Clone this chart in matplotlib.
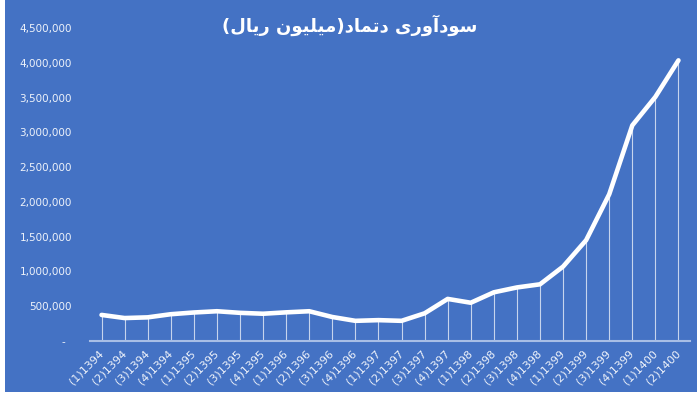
import matplotlib
matplotlib.use("Agg")
import matplotlib.pyplot as plt
from matplotlib.patches import Rectangle
from matplotlib.ticker import FuncFormatter

title = "سودآوری دتماد(میلیون ریال)"
quarters = ["(1)1394", "(2)1394", "(3)1394", "(4)1394",
            "(1)1395", "(2)1395", "(3)1395", "(4)1395",
            "(1)1396", "(2)1396", "(3)1396", "(4)1396",
            "(1)1397", "(2)1397", "(3)1397", "(4)1397",
            "(1)1398", "(2)1398", "(3)1398", "(4)1398",
            "(1)1399", "(2)1399", "(3)1399", "(4)1399",
            "(1)1400", "(2)1400"]
profit = [375000, 330000, 340000, 385000, 410000, 428000, 405000, 392000,
          412000, 428000, 345000, 290000, 300000, 290000, 398000, 605000,
          550000, 700000, 770000, 815000, 1070000, 1450000, 2110000, 3100000,
          3510000, 4035000]
yticks = [0, 500000, 1000000, 1500000, 2000000, 2500000, 3000000, 3500000,
          4000000, 4500000]

bg = "#4472C4"
txt = "#EEF2FA"

# arabic presentation forms: isolated, final, initial, medial
forms = {
    "س": ("\uFEB1", "\uFEB2", "\uFEB3", "\uFEB4"),
    "و": ("\uFEED", "\uFEEE", None, None),
    "د": ("\uFEA9", "\uFEAA", None, None),
    "آ": ("\uFE81", "\uFE82", None, None),
    "ر": ("\uFEAD", "\uFEAE", None, None),
    "ی": ("\uFBFC", "\uFBFD", "\uFBFE", "\uFBFF"),
    "ت": ("\uFE95", "\uFE96", "\uFE97", "\uFE98"),
    "م": ("\uFEE1", "\uFEE2", "\uFEE3", "\uFEE4"),
    "ا": ("\uFE8D", "\uFE8E", None, None),
    "ل": ("\uFEDD", "\uFEDE", "\uFEDF", "\uFEE0"),
    "ن": ("\uFEE5", "\uFEE6", "\uFEE7", "\uFEE8"),
}


def shape(s):
    out = []
    for i, c in enumerate(s):
        if c not in forms:
            out.append(c)
            continue
        prev = s[i - 1] if i > 0 else ""
        nxt = s[i + 1] if i + 1 < len(s) else ""
        jp = prev in forms and forms[prev][2] is not None
        jn = nxt in forms and forms[c][2] is not None
        f = forms[c]
        if jp and jn:
            out.append(f[3])
        elif jp:
            out.append(f[1])
        elif jn:
            out.append(f[2])
        else:
            out.append(f[0])
    mirror = {"(": ")", ")": "("}
    return "".join(mirror.get(ch, ch) for ch in reversed(out))


fig = plt.figure(figsize=(7, 4), dpi=100, facecolor="white")
fig.patches.append(Rectangle((5 / 700, 8 / 400), 692 / 700, 392 / 400,
                             transform=fig.transFigure, facecolor=bg,
                             edgecolor="none", zorder=-10))

ax = fig.add_axes([90 / 700, 59 / 400, 600 / 700, 313 / 400])
ax.set_facecolor("none")
x = list(range(len(quarters)))

ax.vlines(x, 0, profit, color="white", lw=0.8, alpha=0.7, zorder=2)
ax.plot(x, profit, color="white", lw=3.3, solid_capstyle="round",
        solid_joinstyle="round", zorder=3)

ax.set_xlim(-0.5, len(quarters) - 0.5)
ax.set_ylim(0, 4500000)
ax.set_yticks(yticks)
ax.yaxis.set_major_formatter(FuncFormatter(
    lambda v, p: "-  " if v == 0 else f"{int(v):,}"))
ax.set_xticks(x)
ax.set_xticklabels(quarters, rotation=45, ha="right", va="center",
                   rotation_mode="anchor")

for s in ["top", "right", "left"]:
    ax.spines[s].set_visible(False)
ax.spines["bottom"].set_color("#A8BEE6")
ax.spines["bottom"].set_linewidth(1.5)
ax.tick_params(axis="y", length=0, pad=13, labelsize=7.5, labelcolor=txt)
ax.tick_params(axis="x", length=0, pad=8, labelsize=8, labelcolor=txt)

fig.text(0.5, 1 - 25 / 400, shape(title), ha="center", va="center",
         fontsize=13, fontweight="bold", color="white",
         family=["DejaVu Sans"])

fig.savefig("out.png", dpi=100, facecolor=fig.get_facecolor())
